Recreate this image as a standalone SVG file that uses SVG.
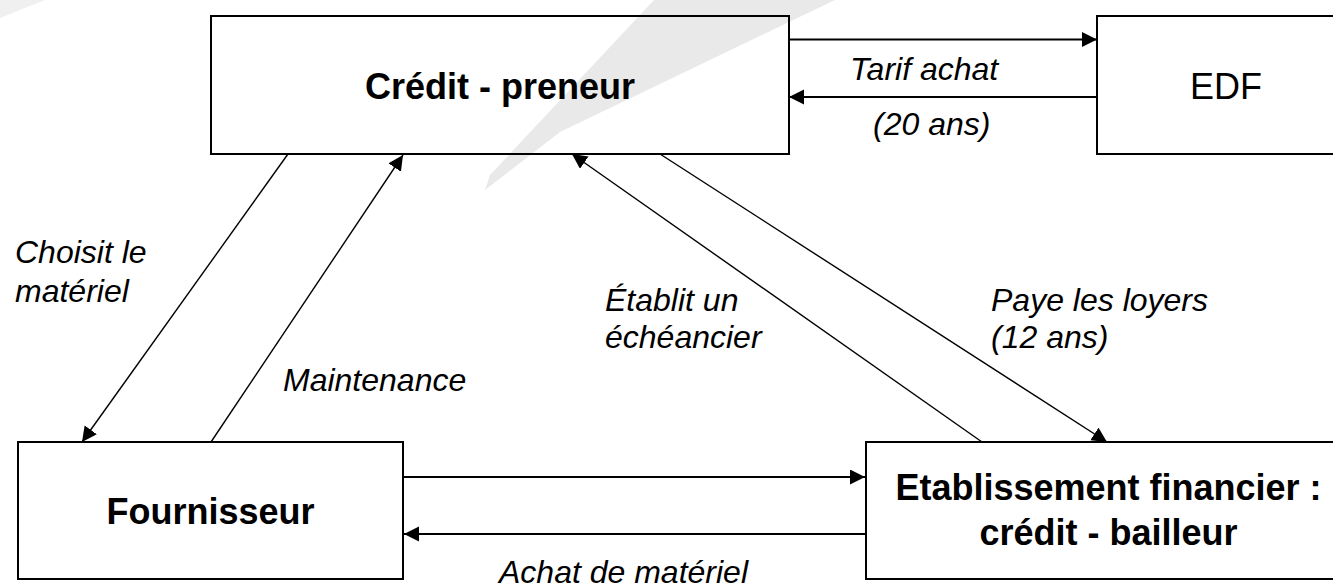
<svg xmlns="http://www.w3.org/2000/svg" width="1333" height="587" viewBox="0 0 1333 587">
<style>
.box{fill:none;stroke:#000;stroke-width:2}
.b{font-family:"Liberation Sans",Arial,sans-serif;font-weight:bold;font-size:36px;fill:#000;text-anchor:middle}
.r{font-family:"Liberation Sans",Arial,sans-serif;font-size:36px;fill:#000;text-anchor:middle}
.i{font-family:"Liberation Sans",Arial,sans-serif;font-style:italic;font-size:32px;fill:#000}
.c{fill:none;stroke:#000;stroke-width:1.4;marker-end:url(#ah)}
.h{stroke-width:1.8}
</style>
<defs>
<marker id="ah" markerUnits="userSpaceOnUse" markerWidth="16" markerHeight="16" refX="15" refY="7.5" orient="auto">
<path d="M0,0 L15,7.5 L0,15 z" fill="#000"/>
</marker>
</defs>
<rect width="1333" height="587" fill="#fff"/>
<g id="watermark">
<polygon points="654,0 835,0 560,132 485,190 490,175" fill="#e9e9e9"/>
<polygon points="0,0 45,0 0,18" fill="#f0f0f0"/>
</g>
<g id="connectors">
<line class="c h" x1="789" y1="39.5" x2="1097" y2="39.5"/>
<line class="c h" x1="1097" y1="97" x2="789" y2="97"/>
<line class="c" x1="288" y1="154" x2="82" y2="442"/>
<line class="c" x1="211" y1="442" x2="403" y2="155"/>
<line class="c" x1="982" y1="442" x2="572" y2="154"/>
<line class="c" x1="660" y1="154" x2="1107" y2="442"/>
<line class="c h" x1="403" y1="477" x2="865" y2="477"/>
<line class="c h" x1="866" y1="534" x2="404" y2="534"/>
</g>
<g id="credit-preneur">
<rect class="box" x="211" y="16" width="578" height="138"/>
<text class="b" x="500" y="99">Crédit - preneur</text>
</g>
<g id="edf">
<rect class="box" x="1097" y="16" width="258" height="138"/>
<text class="r" x="1226" y="99">EDF</text>
</g>
<g id="fournisseur">
<rect class="box" x="18" y="442" width="385" height="137"/>
<text class="b" x="210.5" y="524">Fournisseur</text>
</g>
<g id="etablissement">
<rect class="box" x="866" y="442" width="490" height="137"/>
<text class="b" x="1108.5" y="500">Etablissement financier :</text>
<text class="b" x="1108.5" y="545">crédit - bailleur</text>
</g>
<g id="labels">
<text class="i" x="850" y="80">Tarif achat</text>
<text class="i" x="873" y="135">(20 ans)</text>
<text class="i" x="15" y="263">Choisit le</text>
<text class="i" x="15" y="302">matériel</text>
<text class="i" x="283" y="391">Maintenance</text>
<text class="i" x="605" y="311">Établit un</text>
<text class="i" x="605" y="348">échéancier</text>
<text class="i" x="991" y="311">Paye les loyers</text>
<text class="i" x="991" y="348">(12 ans)</text>
<text class="i" x="499" y="583">Achat de matériel</text>
</g>
</svg>
